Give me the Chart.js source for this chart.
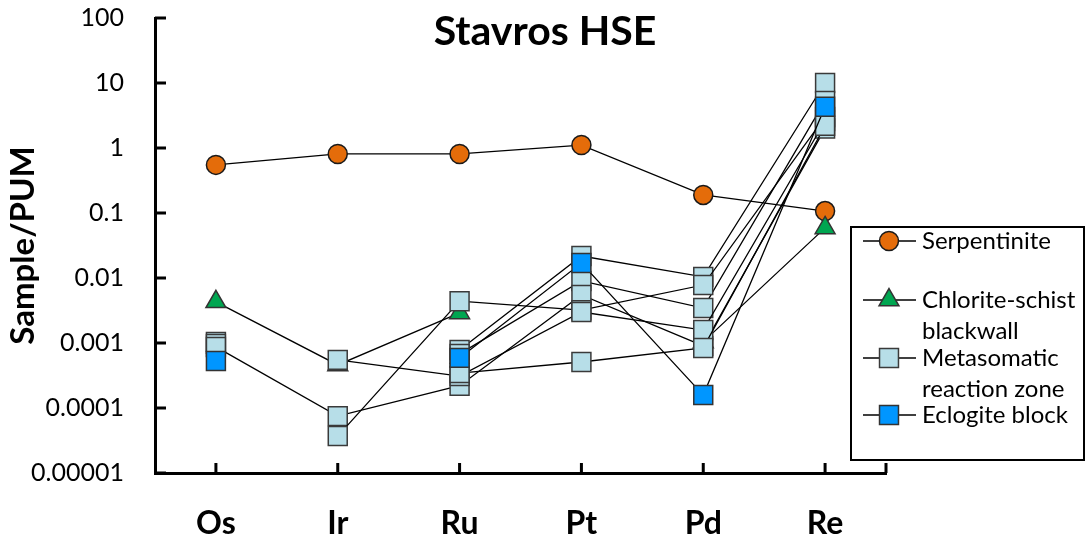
<!DOCTYPE html>
<html>
<head>
<meta charset="utf-8">
<script src="https://cdn.jsdelivr.net/npm/chart.js@4.4.1/dist/chart.umd.min.js"></script>
<style>
  html, body { margin: 0; padding: 0; background: #fff; }
  #wrap { width: 1086px; height: 542px; position: relative; }
</style>
</head>
<body>
<div id="wrap"><canvas id="hse-chart" width="1086" height="542"></canvas></div>
<script>
// element order on the x axis
const elements = ['Os', 'Ir', 'Ru', 'Pt', 'Pd', 'Re'];

// sample / PUM values (null = no value)
const serpentinite   = [0.55, 0.81, 0.81, 1.11, 0.19, 0.107];
const chloriteSchist = [0.0043, 0.00046, 0.0029, null, 0.00104, 0.059];
const metasomaticA   = [0.00104, null, 0.00078, 0.0218, 0.0104, 10];
const metasomaticB   = [0.00097, null, 0.00068, 0.0090, 0.00345, 5.3];
const metasomaticC   = [0.00087, 0.000075, 0.00022, 0.0055, 0.0009, 2.0];
const metasomaticD   = [null, 0.000037, 0.0044, 0.0032, 0.0078, 3.0];
const metasomaticE   = [null, 0.00055, 0.00031, 0.0030, 0.00158, 2.6];
const metasomaticF   = [null, null, 0.000345, 0.00051, 0.00084, 2.2];
const eclogite       = [0.00053, null, 0.00059, 0.017, 0.000158, 4.3];

const yTicks = [0.00001, 0.0001, 0.001, 0.01, 0.1, 1, 10, 100];
const yTickLabels = ['0.00001', '0.0001', '0.001', '0.01', '0.1', '1', '10', '100'];

const legendLabels = [['Serpentinite'], ['Chlorite-schist', 'blackwall'], ['Metasomatic', 'reaction zone'], ['Eclogite block']];

const FONT = 'Lato, Carlito, "Open Sans", sans-serif';

function series(data, style, order, legendIndex) {
    return {
        data: data,
        borderColor: '#000',
        borderWidth: 1.3,
        pointStyle: style.shape,
        pointRadius: style.radius,
        pointBackgroundColor: style.fill,
        pointBorderColor: style.stroke,
        pointBorderWidth: 1.5,
        fill: false,
        tension: 0,
        order: order,
        legendIndex: legendIndex
    };
}

const serpStyle = { shape: 'circle', radius: 9.5, fill: '#E46C0A', stroke: '#1a1a1a' };
const chlStyle = { shape: 'triangle', radius: 11.5, fill: '#00A651', stroke: '#333' };
const metaStyle = { shape: 'rect', radius: 13.4, fill: '#B7DEE8', stroke: '#3a3a3a' };
const eclStyle = { shape: 'rect', radius: 13.4, fill: '#0096FF', stroke: '#333' };

const datasets = [
    series(serpentinite, serpStyle, 9, 0),
    series(chloriteSchist, chlStyle, 8, 1),
    series(metasomaticA, metaStyle, 7, 2),
    series(metasomaticB, metaStyle, 6, -1),
    series(metasomaticC, metaStyle, 5, -1),
    series(metasomaticD, metaStyle, 4, -1),
    series(metasomaticE, metaStyle, 3, -1),
    series(metasomaticF, metaStyle, 2, -1),
    series(eclogite, eclStyle, 1, 3)
];

// title, inward tick marks and the boxed legend
const decorPlugin = {
    id: 'decor',
    afterDraw(chart) {
        const ctx = chart.ctx;
        const area = chart.chartArea;
        const xs = chart.scales.x;
        const ys = chart.scales.y;
        ctx.save();

        // tick marks pointing into the plot
        ctx.strokeStyle = '#000';
        ctx.lineWidth = 3;
        ctx.beginPath();
        yTicks.forEach(v => {
            const py = ys.getPixelForValue(v);
            ctx.moveTo(area.left, py);
            ctx.lineTo(area.left + 11, py);
        });
        elements.forEach((e, i) => {
            const px = xs.getPixelForValue(i);
            ctx.moveTo(px, area.bottom);
            ctx.lineTo(px, area.bottom - 10);
        });
        ctx.moveTo(area.right, area.bottom);
        ctx.lineTo(area.right, area.bottom - 10);
        ctx.stroke();

        // title
        ctx.fillStyle = '#000';
        ctx.font = 'bold 41px ' + FONT;
        ctx.textAlign = 'center';
        ctx.textBaseline = 'middle';
        ctx.fillText('Stavros HSE', 545, 32);

        // legend box
        ctx.fillStyle = '#fff';
        ctx.fillRect(851, 227, 233, 233);
        ctx.lineWidth = 2;
        ctx.strokeStyle = '#000';
        ctx.strokeRect(851, 227, 233, 233);

        const rowY = [241, 300, 358, 415];
        ctx.font = '24px ' + FONT;
        ctx.textAlign = 'left';
        chart.data.datasets.forEach(ds => {
            if (ds.legendIndex < 0) return;
            const y = rowY[ds.legendIndex];
            ctx.strokeStyle = '#000';
            ctx.lineWidth = 1.3;
            ctx.beginPath();
            ctx.moveTo(863, y);
            ctx.lineTo(916, y);
            ctx.stroke();
            ctx.fillStyle = ds.pointBackgroundColor;
            ctx.strokeStyle = ds.pointBorderColor;
            ctx.lineWidth = ds.pointBorderWidth;
            Chart.helpers.drawPoint(ctx, {
                pointStyle: ds.pointStyle,
                radius: ds.pointRadius,
                rotation: 0,
                borderWidth: ds.pointBorderWidth
            }, 889, y);
            ctx.fillStyle = '#000';
            legendLabels[ds.legendIndex].forEach((line, k) => {
                ctx.fillText(line, 922, y + k * 31);
            });
        });
        ctx.restore();
    }
};

new Chart(document.getElementById('hse-chart').getContext('2d'), {
    type: 'line',
    data: { labels: elements, datasets: datasets },
    options: {
        responsive: false,
        animation: false,
        events: [],
        devicePixelRatio: 1,
        layout: { padding: { top: 18, right: 200, left: 0, bottom: 0 } },
        plugins: { legend: { display: false }, title: { display: false }, tooltip: { enabled: false } },
        scales: {
            x: {
                type: 'category',
                offset: true,
                grid: { display: false, drawTicks: false },
                border: { display: true, width: 3, color: '#000' },
                ticks: { color: '#000', font: { family: FONT, size: 32, weight: 'bold' }, padding: 31 },
                afterFit(scale) {
                    scale.height = 69;
                    scale.paddingLeft = 0;
                    scale.paddingRight = 0;
                }
            },
            y: {
                type: 'logarithmic',
                min: 0.00001,
                max: 100,
                grid: { display: false, drawTicks: false },
                border: { display: true, width: 3, color: '#000' },
                afterBuildTicks(scale) { scale.ticks = yTicks.map(v => ({ value: v })); },
                ticks: {
                    color: '#000',
                    font: { family: FONT, size: 25 },
                    padding: 31,
                    autoSkip: false,
                    callback: (value, index) => yTickLabels[index]
                },
                title: {
                    display: true,
                    text: 'Sample/PUM',
                    color: '#000',
                    font: { family: FONT, size: 33, weight: 'bold' },
                    padding: { top: 4, bottom: 0 }
                },
                afterFit(scale) {
                    scale.width = 155;
                    scale.paddingTop = 0;
                    scale.paddingBottom = 0;
                }
            }
        }
    },
    plugins: [decorPlugin]
});
</script>
</body>
</html>
